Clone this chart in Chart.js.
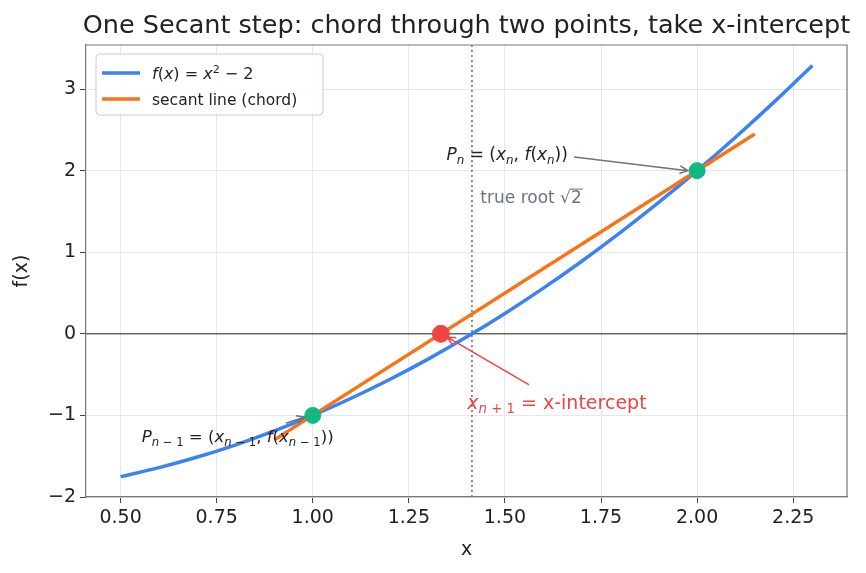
<!DOCTYPE html>
<html>
<head>
<meta charset="utf-8">
<script src="https://cdn.jsdelivr.net/npm/chart.js@4.4.1/dist/chart.umd.min.js"></script>
<style>
  html, body { margin: 0; padding: 0; background: #fff; overflow: hidden; }
  #secantChart { display: block; }
</style>
</head>
<body>
<canvas id="secantChart" width="866" height="573"></canvas>
<script>
// dados
const curveX = [0.5, 0.6, 0.7, 0.8, 0.9, 1.0, 1.1, 1.2, 1.3, 1.4, 1.5, 1.6, 1.7, 1.8, 1.9, 2.0, 2.1, 2.2, 2.3];
const curveY = [-1.75, -1.64, -1.51, -1.36, -1.19, -1.0, -0.79, -0.56, -0.31, -0.04, 0.25, 0.56, 0.89, 1.24, 1.61, 2.0, 2.41, 2.84, 3.29];
const chordX = [0.9, 2.15];
const chordY = [-1.3, 2.45];
const prevPoint = [1.0, -1.0];
const currPoint = [2.0, 2.0];
const nextPoint = [1.3333, 0.0];
const trueRoot = 1.4142;
const xTicks = [0.5, 0.75, 1.0, 1.25, 1.5, 1.75, 2.0, 2.25];
const yTicks = [-2, -1, 0, 1, 2, 3];
const xRange = [0.41, 2.39];
const yRange = [-2.0, 3.54];

const FONT = '"DejaVu Sans", sans-serif';
const BLUE = '#3b82f6';
const ORANGE = '#f97316';
const GREEN = '#10b981';
const RED = '#ef4444';
const GRAY = '#6b7280';

// desenha texto com trechos em itálico / subscrito / sobrescrito (estilo mathtext)
function drawRich(ctx, segs, x, y, size, color) {
    let cx = x;
    ctx.fillStyle = color;
    ctx.textBaseline = 'alphabetic';
    ctx.textAlign = 'left';
    for (const [t, s] of segs) {
        let fs = size, dy = 0, italic = false;
        if (s === 'i') italic = true;
        if (s === 'sub' || s === 'subi') { fs = size * 0.7; dy = size * 0.22; italic = (s === 'subi'); }
        if (s === 'sup') { fs = size * 0.7; dy = -size * 0.38; }
        ctx.font = (italic ? 'italic ' : '') + fs + 'px ' + FONT;
        ctx.fillText(t, cx, y + dy);
        cx += ctx.measureText(t).width;
    }
    return cx;
}

function arrow(ctx, x1, y1, x2, y2, color, head) {
    const a = Math.atan2(y2 - y1, x2 - x1);
    ctx.save();
    ctx.strokeStyle = color;
    ctx.lineWidth = 1.5;
    ctx.beginPath();
    ctx.moveTo(x1, y1);
    ctx.lineTo(x2, y2);
    ctx.moveTo(x2 - head * Math.cos(a - 0.45), y2 - head * Math.sin(a - 0.45));
    ctx.lineTo(x2, y2);
    ctx.lineTo(x2 - head * Math.cos(a + 0.45), y2 - head * Math.sin(a + 0.45));
    ctx.stroke();
    ctx.restore();
}

const SUB_N1 = [['n', 'subi'], [' − 1', 'sub']];

const annotations = {
    pn: {
        text: [['P', 'i'], ['n', 'subi'], [' = (', 'n'], ['x', 'i'], ['n', 'subi'], [', ', 'n'], ['f', 'i'], ['(', 'n'], ['x', 'i'], ['n', 'subi'], ['))', 'n']],
        at: [1.348, 2.20], from: [1.68, 2.167], to: [1.976, 2.0], color: '#222', arrowColor: GRAY, size: 17
    },
    pprev: {
        text: [['P', 'i']].concat(SUB_N1, [[' = (', 'n'], ['x', 'i']], SUB_N1, [[', ', 'n'], ['f', 'i'], ['(', 'n'], ['x', 'i']], SUB_N1, [['))', 'n']]),
        at: [0.555, -1.257], from: [0.93, -1.095], to: [0.979, -1.02], color: '#222', arrowColor: GRAY, size: 16.6
    },
    next: {
        text: [['x', 'i'], ['n', 'subi'], [' + 1', 'sub'], [' = x-intercept', 'n']],
        at: [1.402, -0.836], from: [1.563, -0.626], to: [1.35, -0.04], color: RED, arrowColor: RED, size: 19
    }
};

const overlayPlugin = {
    id: 'overlay',
    afterDraw(chart) {
        const ctx = chart.ctx;
        const xs = chart.scales.x, ys = chart.scales.y;
        const area = chart.chartArea;
        ctx.save();

        // moldura de cima e da direita
        ctx.strokeStyle = '#777';
        ctx.lineWidth = 1.2;
        ctx.beginPath();
        ctx.moveTo(area.left, area.top);
        ctx.lineTo(area.right, area.top);
        ctx.lineTo(area.right, area.bottom);
        ctx.stroke();

        // título
        ctx.font = '25.5px ' + FONT;
        ctx.fillStyle = '#222';
        ctx.textAlign = 'center';
        ctx.textBaseline = 'middle';
        ctx.fillText('One Secant step: chord through two points, take x-intercept', (area.left + area.right) / 2, 26);

        // anotações
        for (const key of Object.keys(annotations)) {
            const a = annotations[key];
            drawRich(ctx, a.text, xs.getPixelForValue(a.at[0]), ys.getPixelForValue(a.at[1]) + a.size * 0.36, a.size, a.color);
            arrow(ctx, xs.getPixelForValue(a.from[0]), ys.getPixelForValue(a.from[1]),
                xs.getPixelForValue(a.to[0]), ys.getPixelForValue(a.to[1]), a.arrowColor, 9);
        }

        // "true root √2"
        const tx = xs.getPixelForValue(1.436), ty = ys.getPixelForValue(1.676) + 6;
        ctx.font = '17px ' + FONT;
        ctx.fillStyle = GRAY;
        ctx.textAlign = 'left';
        ctx.textBaseline = 'alphabetic';
        const w1 = ctx.measureText('true root ').width;
        ctx.fillText('true root ', tx, ty);
        const w2 = ctx.measureText('√').width;
        ctx.fillText('√', tx + w1, ty);
        const w3 = ctx.measureText('2').width;
        ctx.fillText('2', tx + w1 + w2, ty);
        ctx.strokeStyle = GRAY;
        ctx.lineWidth = 1;
        ctx.beginPath();
        ctx.moveTo(tx + w1 + w2 - 1, ty - 14);
        ctx.lineTo(tx + w1 + w2 + w3 + 1, ty - 14);
        ctx.stroke();

        // legenda
        const lx = area.left + 10, ly = area.top + 9;
        ctx.beginPath();
        ctx.roundRect(lx, ly, 227, 61, 4);
        ctx.fillStyle = 'rgba(255,255,255,0.85)';
        ctx.fill();
        ctx.strokeStyle = '#cccccc';
        ctx.lineWidth = 1;
        ctx.stroke();
        ctx.lineWidth = 3.5;
        ctx.strokeStyle = BLUE;
        ctx.beginPath(); ctx.moveTo(lx + 6, ly + 19); ctx.lineTo(lx + 44, ly + 19); ctx.stroke();
        ctx.strokeStyle = ORANGE;
        ctx.beginPath(); ctx.moveTo(lx + 6, ly + 45); ctx.lineTo(lx + 44, ly + 45); ctx.stroke();
        drawRich(ctx, [['f', 'i'], ['(', 'n'], ['x', 'i'], [')', 'n'], [' = ', 'n'], ['x', 'i'], ['2', 'sup'], [' − 2', 'n']], lx + 56, ly + 25, 16, '#222');
        drawRich(ctx, [['secant line (chord)', 'n']], lx + 56, ly + 51, 15.5, '#222');

        ctx.restore();
    }
};

const ctx = document.getElementById('secantChart');
new Chart(ctx.getContext('2d'), {
    type: 'scatter',
    data: {
        datasets: [
            {
                label: 'zero',
                data: [{ x: xRange[0], y: 0 }, { x: xRange[1], y: 0 }],
                showLine: true, borderColor: '#666', borderWidth: 1.5, pointRadius: 0, order: 10
            },
            {
                label: 'root',
                data: [{ x: trueRoot, y: yRange[0] }, { x: trueRoot, y: yRange[1] }],
                showLine: true, borderColor: '#555', borderWidth: 1.3, borderDash: [2, 3], pointRadius: 0, order: 9
            },
            {
                label: 'f(x) = x² − 2',
                data: curveX.map((x, i) => ({ x: x, y: curveY[i] })),
                showLine: true, borderColor: BLUE, borderWidth: 3.5, pointRadius: 0,
                cubicInterpolationMode: 'monotone', order: 5
            },
            {
                label: 'secant line (chord)',
                data: chordX.map((x, i) => ({ x: x, y: chordY[i] })),
                showLine: true, borderColor: ORANGE, borderWidth: 3.5, pointRadius: 0, order: 4
            },
            {
                label: 'pontos',
                data: [{ x: prevPoint[0], y: prevPoint[1] }, { x: currPoint[0], y: currPoint[1] }],
                backgroundColor: GREEN, borderColor: GREEN, pointRadius: 8, order: 2
            },
            {
                label: 'novo',
                data: [{ x: nextPoint[0], y: nextPoint[1] }],
                backgroundColor: RED, borderColor: RED, pointRadius: 8.5, order: 1
            }
        ]
    },
    options: {
        responsive: false,
        animation: false,
        layout: { padding: { top: 45, right: 19, left: 0, bottom: 0 } },
        plugins: {
            legend: { display: false },
            title: { display: false },
            tooltip: { enabled: false }
        },
        scales: {
            x: {
                type: 'linear', min: xRange[0], max: xRange[1],
                afterBuildTicks: (s) => { s.ticks = xTicks.map(v => ({ value: v })); },
                afterFit: (s) => { s.height = 76; },
                grid: { color: '#e5e7eb', lineWidth: 1, tickColor: '#444', tickLength: 6 },
                border: { color: '#777', width: 1.2 },
                ticks: { font: { family: FONT, size: 19 }, color: '#222', padding: 4, maxRotation: 0,
                    callback: (v) => v.toFixed(2) },
                title: { display: true, text: 'x', font: { family: FONT, size: 19 }, color: '#222',
                    padding: { top: 0, bottom: 12 } }
            },
            y: {
                type: 'linear', min: yRange[0], max: yRange[1],
                afterBuildTicks: (s) => { s.ticks = yTicks.map(v => ({ value: v })); },
                afterFit: (s) => { s.width = 86; },
                grid: { color: '#e5e7eb', lineWidth: 1, tickColor: '#444', tickLength: 6 },
                border: { color: '#777', width: 1.2 },
                ticks: { font: { family: FONT, size: 19 }, color: '#222', padding: 4,
                    callback: (v) => (v < 0 ? '−' + Math.abs(v) : String(v)) },
                title: { display: true, text: 'f(x)', font: { family: FONT, size: 19 }, color: '#222',
                    padding: { top: 11, bottom: 0 } }
            }
        }
    },
    plugins: [overlayPlugin]
});
</script>
</body>
</html>
